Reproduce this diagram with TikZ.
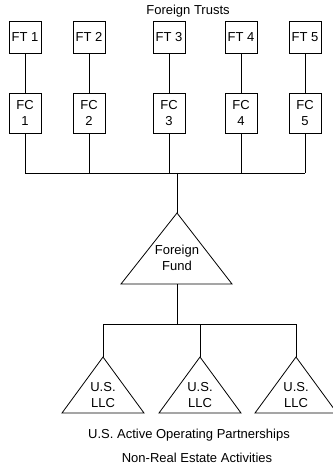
\documentclass[tikz,border=0pt]{standalone}
\usepackage{fontspec}
\setmainfont{Liberation Sans}
\begin{document}
\begin{tikzpicture}[x=1pt,y=-1pt,line width=0.8pt,
  every node/.style={font=\fontsize{13}{16}\selectfont, align=center, inner sep=0pt},
  trustbox/.style={draw, minimum width=32pt, minimum height=32pt},
  corpbox/.style={draw, minimum width=32pt, minimum height=40pt},
  link/.style={draw}]
\useasboundingbox (0,0) rectangle (332,470);

% title
\node (title) at (188,11) {Foreign Trusts};

% foreign trusts and foreign corporations
\foreach \i/\x in {1/25,2/89,3/169,4/241,5/305}{
  \node[trustbox] (ft\i) at (\x,37) {FT \i};
  \node[corpbox]  (fc\i) at (\x,113) {FC\\\i};
  \coordinate (b\i) at (\x,173);
  \draw[link] (ft\i) -- (fc\i);
  \draw[link] (fc\i) -- (b\i);
}
\draw[link] (b1) -- (b5);

% foreign fund
\coordinate (fundtop) at (177,213);
\coordinate (fundbus) at (177,173);
\draw (fundtop) -- (232,284) -- (121,284) -- cycle;
\node (fund) at (177,258) {Foreign\\Fund};
\draw[link] (fundbus) -- (fundtop);

% U.S. LLCs
\coordinate (fundbase) at (177,284);
\coordinate (llcbus) at (177,324);
\draw[link] (fundbase) -- (llcbus);
\foreach \i/\x in {1/103,2/200,3/296}{
  \coordinate (llctop\i) at (\x,357);
  \coordinate (llcb\i) at (\x,324);
  \draw (llctop\i) -- (\x+41,413) -- (\x-41,413) -- cycle;
  \node (llc\i) at (\x,395) {U.S.\\LLC};
  \draw[link] (llcb\i) -- (llctop\i);
}
\draw[link] (llcb1) -- (llcb3);

% captions
\node (cap1) at (189,435) {U.S. Active Operating Partnerships};
\node (cap2) at (197,458) {Non-Real Estate Activities};
\end{tikzpicture}
\end{document}
